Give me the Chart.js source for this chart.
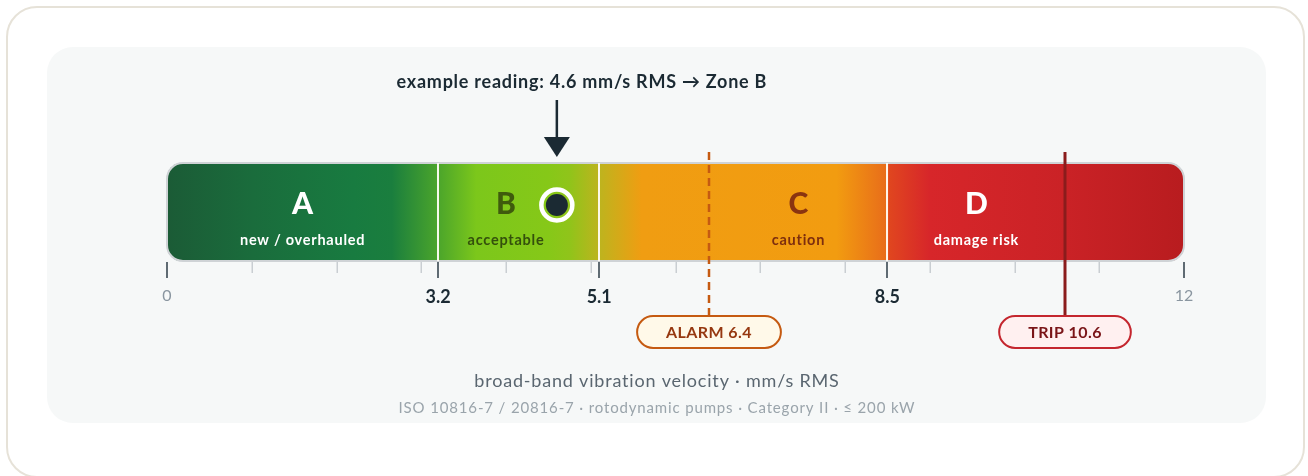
<!DOCTYPE html>
<html>
<head>
<meta charset="utf-8">
<title>Vibration severity zones</title>
<script src="https://cdn.jsdelivr.net/npm/chart.js@4"></script>
<style>
  html, body { margin: 0; padding: 0; background: #ffffff; }
  #wrap { position: relative; width: 1308px; height: 476px; }
</style>
</head>
<body>
<div id="wrap"><canvas id="zones" width="1308" height="476"></canvas></div>
<script>
// zone boundaries and names (mm/s RMS)
const zoneEdges = [0, 3.2, 5.1, 8.5, 12];
const zoneLetters = ["A", "B", "C", "D"];
const zoneNames = ["new / overhauled", "acceptable", "caution", "damage risk"];
const zoneLabelAt = [1.6, 4.0, 7.45, 9.55];
const axisTicks = [0, 3.2, 5.1, 8.5, 12];
const minorTicks = [1, 2, 3, 4, 5, 6, 7, 8, 9, 10, 11];
const reading = 4.6;
const alarmLevel = 6.4;
const tripLevel = 10.6;

const FONT = "Lato, 'Noto Sans', sans-serif";
const INK = "#1b2a33";

// colour ramp along the bar, keyed by velocity
const ramp = [
  [0, "#1b5b36"], [1.0, "#1a6c3c"], [2.2, "#187b40"], [2.65, "#1a7e3e"],
  [3.2, "#4ba52b"], [3.65, "#7cc71b"], [4.5, "#86c818"], [4.75, "#90c41a"],
  [5.1, "#bdb41e"], [5.6, "#f09d12"], [7.9, "#f29c10"], [8.5, "#e86c1a"],
  [8.52, "#e0461f"], [9.0, "#d7262a"], [10.6, "#ca2226"], [12, "#b81c1f"],
];

let rampCache = null;
function zoneGradient(chart) {
  const x = chart.scales.x;
  const x0 = x.getPixelForValue(0), x1 = x.getPixelForValue(12);
  if (rampCache && rampCache.x0 === x0 && rampCache.x1 === x1) return rampCache.g;
  const g = chart.ctx.createLinearGradient(x0, 0, x1, 0);
  ramp.forEach(([v, c]) => g.addColorStop(v / 12, c));
  rampCache = { x0, x1, g };
  return g;
}

function roundRect(ctx, x, y, w, h, r) {
  ctx.beginPath();
  ctx.moveTo(x + r, y);
  ctx.arcTo(x + w, y, x + w, y + h, r);
  ctx.arcTo(x + w, y + h, x, y + h, r);
  ctx.arcTo(x, y + h, x, y, r);
  ctx.arcTo(x, y, x + w, y, r);
  ctx.closePath();
}

function spacedText(ctx, text, x, y, font, spacing) {
  ctx.font = font;
  ctx.letterSpacing = spacing + "px";
  ctx.fillText(text, x, y);
  ctx.letterSpacing = "0px";
}

const backdrop = {
  id: "backdrop",
  beforeDraw(chart) {
    const ctx = chart.ctx;
    ctx.save();
    roundRect(ctx, 7, 7, 1297, 470, 30);
    ctx.fillStyle = "#ffffff";
    ctx.fill();
    ctx.strokeStyle = "#e6e2d8";
    ctx.lineWidth = 2;
    ctx.stroke();
    roundRect(ctx, 47, 47, 1219, 376, 26);
    ctx.fillStyle = "#f6f8f8";
    ctx.fill();
    ctx.restore();
  },
};

const overlay = {
  id: "overlay",
  afterDatasetsDraw(chart) {
    const ctx = chart.ctx;
    const x = chart.scales.x;
    const { top, bottom, left, right } = chart.chartArea;
    const px = (v) => x.getPixelForValue(v);
    ctx.save();

    // outline of the whole bar
    roundRect(ctx, left, top, right - left, bottom - top, 16);
    ctx.strokeStyle = "#cfd3d6";
    ctx.lineWidth = 2;
    ctx.stroke();

    // zone separators
    ctx.strokeStyle = "rgba(255,253,245,0.95)";
    ctx.lineWidth = 2;
    zoneEdges.slice(1, -1).forEach((v) => {
      ctx.beginPath();
      ctx.moveTo(Math.round(px(v)), top);
      ctx.lineTo(Math.round(px(v)), bottom);
      ctx.stroke();
    });

    // zone letters and names
    const letterInk = ["#ffffff", "#3f5b0d", "#8a3410", "#ffffff"];
    const nameInk = ["#ffffff", "#34500c", "#7d2e0e", "#ffffff"];
    ctx.textAlign = "center";
    ctx.textBaseline = "middle";
    zoneLetters.forEach((l, i) => {
      const cx = px(zoneLabelAt[i]);
      ctx.fillStyle = letterInk[i];
      ctx.font = "900 30px " + FONT;
      ctx.fillText(l, cx, top + 41);
      ctx.fillStyle = nameInk[i];
      spacedText(ctx, zoneNames[i], cx, top + 77, "bold 14.5px " + FONT, 0.75);
    });

    // minor and major tick marks under the bar
    ctx.lineWidth = 1.5;
    ctx.strokeStyle = "#c9ced2";
    minorTicks.forEach((v) => {
      ctx.beginPath();
      ctx.moveTo(Math.round(px(v)) + 0.25, bottom + 1);
      ctx.lineTo(Math.round(px(v)) + 0.25, bottom + 12);
      ctx.stroke();
    });
    ctx.lineWidth = 2;
    ctx.strokeStyle = "#5f6b73";
    axisTicks.forEach((v) => {
      ctx.beginPath();
      ctx.moveTo(Math.round(px(v)), bottom + 1);
      ctx.lineTo(Math.round(px(v)), bottom + 17);
      ctx.stroke();
    });

    // alarm (dashed) and trip (solid) limits
    const ax = Math.round(px(alarmLevel)), tx = Math.round(px(tripLevel));
    ctx.strokeStyle = "#c55a11";
    ctx.lineWidth = 2.5;
    ctx.setLineDash([8, 5]);
    ctx.beginPath();
    ctx.moveTo(ax, top - 11);
    ctx.lineTo(ax, top + 153);
    ctx.stroke();
    ctx.setLineDash([]);
    ctx.strokeStyle = "#8b1c1c";
    ctx.lineWidth = 3;
    ctx.beginPath();
    ctx.moveTo(tx, top - 11);
    ctx.lineTo(tx, top + 153);
    ctx.stroke();

    badge(ctx, ax, top + 169, "ALARM " + alarmLevel, "#fff9e9", "#c55a11", "#963810");
    badge(ctx, tx, top + 169, "TRIP " + tripLevel, "#fff0f0", "#c4262e", "#7a1518");

    // example reading marker
    const rx = px(reading), ry = top + 42;
    ctx.beginPath();
    ctx.arc(rx, ry, 15.5, 0, Math.PI * 2);
    ctx.strokeStyle = "#ffffff";
    ctx.lineWidth = 4.5;
    ctx.stroke();
    ctx.beginPath();
    ctx.arc(rx, ry, 11, 0, Math.PI * 2);
    ctx.fillStyle = INK;
    ctx.fill();

    // pointer arrow above the bar
    ctx.strokeStyle = INK;
    ctx.lineWidth = 2.5;
    ctx.beginPath();
    ctx.moveTo(rx, top - 63);
    ctx.lineTo(rx, top - 24);
    ctx.stroke();
    ctx.beginPath();
    ctx.moveTo(rx - 13, top - 26);
    ctx.lineTo(rx + 13, top - 26);
    ctx.lineTo(rx, top - 6);
    ctx.closePath();
    ctx.fillStyle = INK;
    ctx.fill();

    ctx.fillStyle = INK;
    ctx.textAlign = "center";
    ctx.textBaseline = "middle";
    spacedText(ctx, "example reading: " + reading + " mm/s RMS \u2192 Zone B",
      rx + 25, top - 81, "bold 18px " + FONT, 0.75);

    // axis title and footnote
    const mid = 657;
    ctx.fillStyle = "#5a6670";
    spacedText(ctx, "broad-band vibration velocity \u00b7 mm/s RMS", mid, 381, "18px " + FONT, 0.8);
    ctx.fillStyle = "#9aa4ab";
    spacedText(ctx, "ISO 10816-7 / 20816-7 \u00b7 rotodynamic pumps \u00b7 Category II \u00b7 \u2264 200 kW",
      mid, 408, "15px " + FONT, 0.85);

    ctx.restore();
  },
};

function badge(ctx, cx, cy, text, fill, stroke, ink) {
  ctx.font = "bold 16px " + FONT;
  ctx.letterSpacing = "0.4px";
  const w = ctx.measureText(text).width + 58, h = 32;
  roundRect(ctx, cx - w / 2, cy - h / 2, w, h, 16);
  ctx.fillStyle = fill;
  ctx.fill();
  ctx.strokeStyle = stroke;
  ctx.lineWidth = 2;
  ctx.stroke();
  ctx.fillStyle = ink;
  ctx.textAlign = "center";
  ctx.textBaseline = "middle";
  ctx.fillText(text, cx, cy + 1);
  ctx.letterSpacing = "0px";
}

const zoneData = zoneLetters.map((l, i) => [zoneEdges[i], zoneEdges[i + 1]]);
const last = zoneLetters.length - 1;

new Chart(document.getElementById("zones"), {
  type: "bar",
  data: {
    labels: ["velocity"],
    datasets: zoneLetters.map((l, i) => ({
      label: "Zone " + l,
      data: [zoneData[i]],
      grouped: false,
      barPercentage: 1,
      categoryPercentage: 1,
      borderSkipped: false,
      borderWidth: 0,
      borderRadius: i === 0 ? { topLeft: 16, bottomLeft: 16 }
        : i === last ? { topRight: 16, bottomRight: 16 } : 0,
      backgroundColor: (c) => (c.chart.chartArea ? zoneGradient(c.chart) : "#888"),
    })),
  },
  options: {
    indexAxis: "y",
    responsive: false,
    animation: false,
    layout: { padding: { left: 167, right: 124, top: 163, bottom: 0 } },
    plugins: { legend: { display: false }, tooltip: { enabled: false } },
    scales: {
      y: { display: false },
      x: {
        type: "linear",
        min: 0,
        max: 12,
        grid: { display: false, drawTicks: false },
        border: { display: false },
        afterBuildTicks: (s) => { s.ticks = axisTicks.map((v) => ({ value: v })); },
        afterFit: (s) => { s.height = 215; },
        ticks: {
          autoSkip: false,
          maxRotation: 0,
          padding: 25,
          callback: (v) => String(v),
          color: (c) => (c.index === 0 || c.index === axisTicks.length - 1 ? "#8a96a0" : INK),
          font: (c) => (c.index === 0 || c.index === axisTicks.length - 1
            ? { family: FONT, size: 16, weight: "normal" }
            : { family: FONT, size: 18, weight: "bold" }),
        },
      },
    },
  },
  plugins: [backdrop, overlay],
});
</script>
</body>
</html>
